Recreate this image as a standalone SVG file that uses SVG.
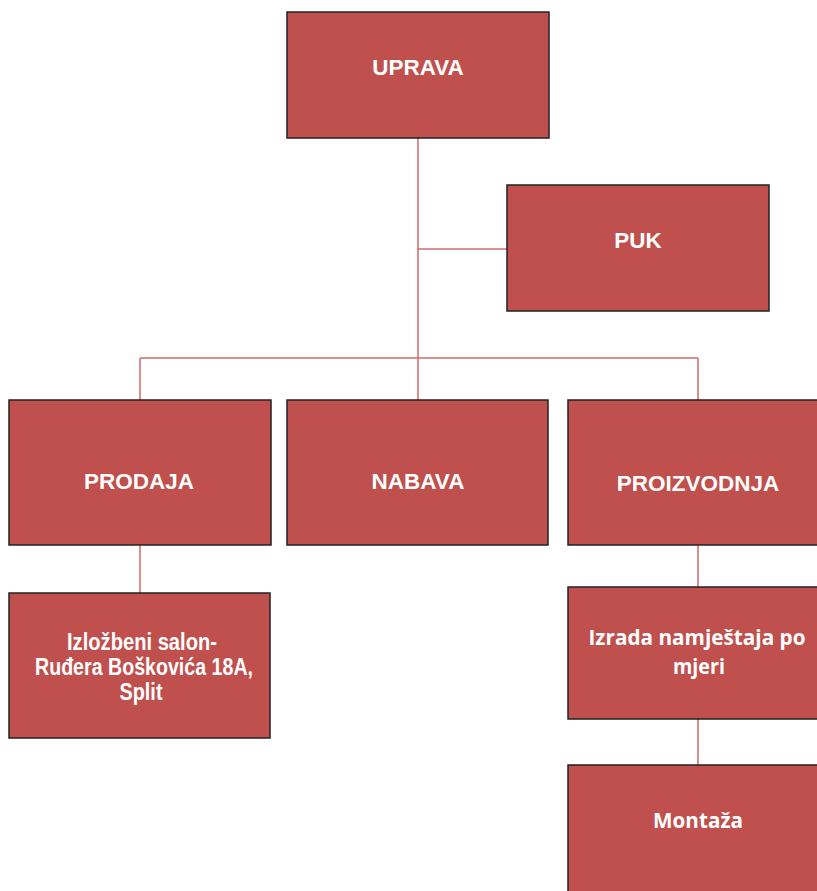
<svg xmlns="http://www.w3.org/2000/svg" width="817" height="891" viewBox="0 0 817 891">
<style>
.box{fill:#C0504D;stroke:#222;stroke-width:1.5}
.t{fill:#fff;font-family:"Liberation Sans",Arial,sans-serif;font-weight:bold;font-size:22.5px;text-anchor:middle}
.n{fill:#fff;font-family:"Liberation Sans",Arial,sans-serif;font-weight:bold;font-size:23px;text-anchor:middle}
.c{fill:#fff;font-family:"Open Sans","Noto Sans",sans-serif;font-weight:bold;font-size:21px;text-anchor:middle}
.ln{fill:none;stroke:#D06A68;stroke-width:1.5}
</style>
<rect width="817" height="891" fill="#fff"/>
<g id="connectors">
<path class="ln" d="M418 138V400"/>
<path class="ln" d="M418 249H507"/>
<path class="ln" d="M140 358H698"/>
<path class="ln" d="M140 358V400"/>
<path class="ln" d="M698 358V400"/>
<path class="ln" d="M140 545V593"/>
<path class="ln" d="M698 545V587"/>
<path class="ln" d="M698 719V765"/>
</g>
<g id="uprava"><rect class="box" x="287" y="12" width="262" height="126"/><text class="t" x="418" y="75">UPRAVA</text></g>
<g id="puk"><rect class="box" x="507" y="185" width="262" height="126"/><text class="t" x="638" y="248">PUK</text></g>
<g id="prodaja"><rect class="box" x="9" y="400" width="262" height="145"/><text class="t" x="139" y="489">PRODAJA</text></g>
<g id="nabava"><rect class="box" x="287" y="400" width="261" height="145"/><text class="t" x="418" y="489">NABAVA</text></g>
<g id="proizvodnja"><rect class="box" x="568" y="400" width="262" height="145"/><text class="t" x="698" y="491">PROIZVODNJA</text></g>
<g id="salon"><rect class="box" x="9" y="593" width="261" height="145"/>
<text class="n" x="142" y="650" textLength="150" lengthAdjust="spacingAndGlyphs">Izložbeni salon-</text>
<text class="n" x="144" y="675" textLength="218" lengthAdjust="spacingAndGlyphs">Ruđera Boškovića 18A,</text>
<text class="n" x="141" y="700" textLength="43" lengthAdjust="spacingAndGlyphs">Split</text></g>
<g id="izrada"><rect class="box" x="568" y="587" width="262" height="132"/>
<text class="c" x="697" y="645" textLength="217" lengthAdjust="spacingAndGlyphs">Izrada namještaja po</text>
<text class="c" x="699" y="674" textLength="52" lengthAdjust="spacingAndGlyphs">mjeri</text></g>
<g id="montaza"><rect class="box" x="568" y="765" width="262" height="140"/>
<text class="c" x="698" y="828" textLength="90" lengthAdjust="spacingAndGlyphs">Montaža</text></g>
</svg>
